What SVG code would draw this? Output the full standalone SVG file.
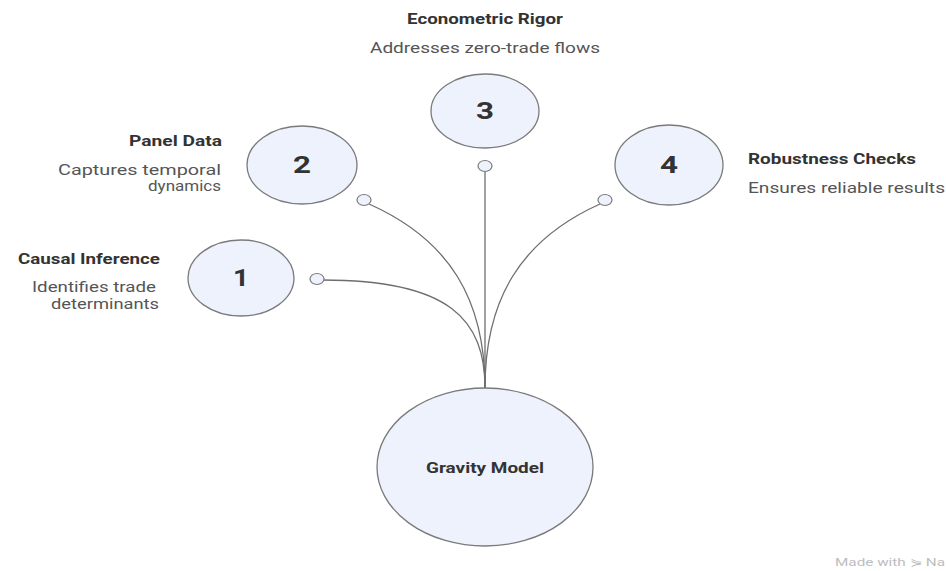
<svg xmlns="http://www.w3.org/2000/svg" width="946" height="571" viewBox="0 0 946 571">
<style>
.node{fill:#eef2fc;stroke:#7a7a7a;stroke-width:1.3}
.dot{fill:#eef2fc;stroke:#7a7a7a;stroke-width:1.2}
.conn{fill:none;stroke:#6e6e6e;stroke-width:1.3}
.num{font-family:Roboto,"Liberation Sans",sans-serif;font-weight:bold;font-size:24px;fill:#333;text-anchor:middle}
.title{font-family:Roboto,"Liberation Sans",sans-serif;font-weight:bold;font-size:14px;fill:#333}
.desc{font-family:Roboto,"Liberation Sans",sans-serif;font-size:15px;fill:#555}
.r{text-anchor:end}
.m{text-anchor:middle}
</style>
<rect width="946" height="571" fill="#ffffff"/>
<g id="connectors">
<path class="conn" d="M323,280 C450,280 485,320 485,388"/>
<path class="conn" d="M369,204 C450,240 485,300 485,388"/>
<path class="conn" d="M485,172 L485,388"/>
<path class="conn" d="M600,204 C520,240 485,300 485,388"/>
<ellipse class="dot" cx="317" cy="279" rx="7" ry="5.5"/>
<ellipse class="dot" cx="364" cy="200" rx="7" ry="5.5"/>
<ellipse class="dot" cx="485" cy="166" rx="7" ry="5.5"/>
<ellipse class="dot" cx="605" cy="200" rx="7" ry="5.5"/>
</g>
<g id="gravity">
<ellipse class="node" cx="485" cy="467" rx="108" ry="79"/>
<text class="title m" x="485" y="473" textLength="118" lengthAdjust="spacingAndGlyphs">Gravity Model</text>
</g>
<g id="node1">
<ellipse class="node" cx="241" cy="278" rx="53" ry="38"/>
<text class="num" x="241" y="286" textLength="16" lengthAdjust="spacingAndGlyphs">1</text>
<text class="title r" x="160" y="264" textLength="142" lengthAdjust="spacingAndGlyphs">Causal Inference</text>
<text class="desc r" x="156" y="292" textLength="124" lengthAdjust="spacingAndGlyphs">Identifies trade</text>
<text class="desc r" x="159" y="309" textLength="108" lengthAdjust="spacingAndGlyphs">determinants</text>
</g>
<g id="node2">
<ellipse class="node" cx="302" cy="165" rx="55" ry="39"/>
<text class="num" x="302" y="173" textLength="18" lengthAdjust="spacingAndGlyphs">2</text>
<text class="title r" x="222" y="146" textLength="93" lengthAdjust="spacingAndGlyphs">Panel Data</text>
<text class="desc r" x="221" y="175" textLength="163" lengthAdjust="spacingAndGlyphs">Captures temporal</text>
<text class="desc r" x="221" y="191" textLength="73" lengthAdjust="spacingAndGlyphs">dynamics</text>
</g>
<g id="node3">
<ellipse class="node" cx="485" cy="111" rx="54" ry="37"/>
<text class="num" x="485" y="119" textLength="18" lengthAdjust="spacingAndGlyphs">3</text>
<text class="title m" x="485" y="24" textLength="156" lengthAdjust="spacingAndGlyphs">Econometric Rigor</text>
<text class="desc m" x="485" y="53" textLength="230" lengthAdjust="spacingAndGlyphs">Addresses zero-trade flows</text>
</g>
<g id="node4">
<ellipse class="node" cx="669" cy="165" rx="54" ry="40"/>
<text class="num" x="669" y="173" textLength="18" lengthAdjust="spacingAndGlyphs">4</text>
<text class="title" x="748" y="164" textLength="168" lengthAdjust="spacingAndGlyphs">Robustness Checks</text>
<text class="desc" x="748" y="193" textLength="197" lengthAdjust="spacingAndGlyphs">Ensures reliable results</text>
</g>
<text x="835" y="566" font-family="Roboto,'Liberation Sans',sans-serif" font-size="11" fill="#bdbdbd" textLength="110" lengthAdjust="spacingAndGlyphs">Made with ⋟ Na</text>
</svg>
